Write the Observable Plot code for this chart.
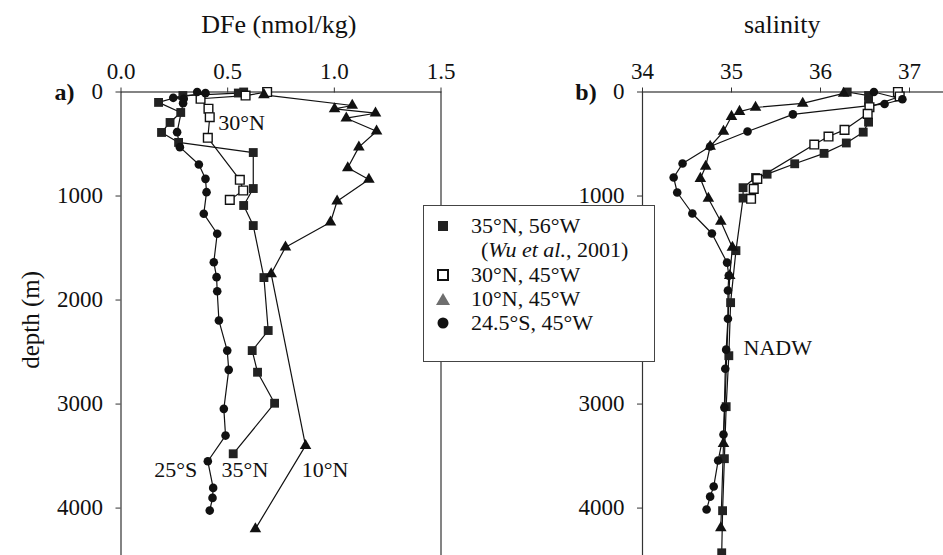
<!DOCTYPE html>
<html><head><meta charset="utf-8">
<script src="https://cdn.jsdelivr.net/npm/d3@7"></script>
<script src="https://cdn.jsdelivr.net/npm/@observablehq/plot@0.6"></script>
<style>
body{margin:0;background:#fff;}
#wrap{position:relative;width:943px;height:555px;overflow:hidden;font-family:"Liberation Serif","Times New Roman",serif;color:#111;background:#fff;}
#pa,#pb{position:absolute;top:0;height:620px;}
#pa{left:0;width:460px;}
#pb{left:520px;width:440px;}
#pa svg,#pb svg{max-width:none !important;}
#legend{position:absolute;left:423px;top:205px;width:232px;height:157px;box-sizing:border-box;border:1px solid #444;background:#fff;}
.row{position:absolute;font-size:22px;line-height:22px;white-space:nowrap;}
.sym{position:absolute;line-height:0;}
</style></head><body>
<div id="wrap"><div id="pa"></div><div id="pb"></div><div id="legend"></div></div>
<script>
// ---- tick labels ----
const depthTicks = [0, 1000, 2000, 3000, 4000];
const dfeTicks = [0.0, 0.5, 1.0, 1.5];
const salTicks = [34, 35, 36, 37];

// ---- panel a: dissolved Fe (nmol/kg) ----
const fe35N_depth = [0, 10, 34, 100, 197, 293, 389, 485, 582, 928, 1091, 1284, 1784, 2293, 2486, 2694, 2992, 3478];
const fe35N_val   = [0.575, 0.55, 0.29, 0.176, 0.28, 0.23, 0.19, 0.27, 0.62, 0.62, 0.575, 0.62, 0.67, 0.69, 0.615, 0.64, 0.72, 0.526];
const fe30N_depth = [0, 34, 65, 161, 242, 440, 844, 947, 1037];
const fe30N_val   = [0.685, 0.584, 0.373, 0.41, 0.416, 0.407, 0.557, 0.573, 0.51];
const fe10N_depth = [27, 130, 162, 204, 252, 377, 530, 729, 841, 1050, 1252, 1492, 1748, 3399, 4200];
const fe10N_val   = [0.67, 1.084, 1.001, 1.193, 1.056, 1.198, 1.115, 1.063, 1.162, 1.013, 0.982, 0.771, 0.704, 0.865, 0.63];
const fe25S_depth = [0, 11, 56, 65, 107, 386, 530, 697, 835, 963, 1171, 1363, 1636, 1780, 1915, 2197, 2486, 2671, 3046, 3303, 3550, 3806, 3902, 4024];
const fe25S_val   = [0.357, 0.396, 0.245, 0.294, 0.291, 0.263, 0.276, 0.365, 0.396, 0.401, 0.388, 0.451, 0.435, 0.448, 0.451, 0.459, 0.498, 0.505, 0.482, 0.49, 0.407, 0.432, 0.429, 0.416];

// ---- panel b: salinity ----
const sal35N_depth = [0, 34, 88, 290, 386, 490, 590, 690, 790, 822, 920, 1020, 1525, 2025, 2535, 3025, 3525, 4025, 4430];
const sal35N_val   = [36.30, 36.54, 36.54, 36.54, 36.48, 36.29, 36.04, 35.71, 35.40, 35.27, 35.13, 35.13, 35.05, 34.99, 34.97, 34.94, 34.92, 34.90, 34.89];
const sal30N_depth = [0, 43, 146, 210, 364, 428, 505, 835, 931, 1027];
const sal30N_val   = [36.87, 36.89, 36.55, 36.53, 36.27, 36.09, 35.93, 35.29, 35.25, 35.22];
const sal10N_depth = [14, 110, 149, 188, 236, 380, 524, 716, 832, 1024, 1245, 1495, 1765, 3380, 4190];
const sal10N_val   = [36.26, 35.80, 35.27, 35.09, 35.00, 34.91, 34.76, 34.71, 34.65, 34.74, 34.88, 35.01, 34.98, 34.91, 34.88];
const sal25S_depth = [0, 70, 115, 215, 380, 524, 688, 822, 966, 1168, 1360, 1640, 1765, 1908, 2180, 2477, 2660, 3034, 3293, 3543, 3793, 3890, 4014];
const sal25S_val   = [36.60, 36.92, 36.72, 35.69, 35.18, 34.76, 34.45, 34.35, 34.39, 34.56, 34.78, 34.95, 34.97, 34.96, 34.96, 34.94, 34.93, 34.92, 34.91, 34.85, 34.80, 34.76, 34.72];

// ---- annotations ----
const labelsA_text = ["30°N", "25°S", "35°N", "10°N"];
const labelsA_x = [0.565, 0.257, 0.581, 0.957];
const labelsA_depth = [299, 3633, 3633, 3633];
const labelsB_text = ["NADW"];
const labelsB_x = [35.52];
const labelsB_depth = [2462];

const legendText = ["35°N, 56°W", "(<i>Wu et al.</i>, 2001)", "30°N, 45°W", "10°N, 45°W", "24.5°S, 45°W"];

const zip = (d, v) => d.map((dd, i) => ({depth: dd, v: v[i]}));
const labs = (t, x, d) => t.map((tt, i) => ({t: tt, x: x[i], depth: d[i]}));

const FONT = "'Liberation Serif', 'Times New Roman', serif";

const styles = {
  s35N: {symbol: "square", fill: "#222", stroke: "#222", r: 5.0, sw: 0},
  s30N: {symbol: "square", fill: "#fff", stroke: "#111", r: 4.9, sw: 1.4},
  s10N: {symbol: "triangle", fill: "#111", stroke: "#111", r: 4.3, sw: 0},
  s25S: {symbol: "circle", fill: "#111", stroke: "#111", r: 4.3, sw: 0}
};

function seriesMarks(list) {
  const marks = [];
  for (const [data] of list) {
    marks.push(Plot.line(data, {x: "v", y: "depth", stroke: "#111", strokeWidth: 1.2}));
  }
  for (const [data, key] of list) {
    const s = styles[key];
    marks.push(Plot.dot(data, {x: "v", y: "depth", symbol: s.symbol, r: s.r, fill: s.fill, stroke: s.stroke, strokeWidth: s.sw}));
  }
  return marks;
}

function panel({xDomain, xTicks, xFmt, width, marginLeft, marginRight, title, titleX, tag, series, labels, extra = []}) {
  return Plot.plot({
    width, height: 620,
    marginTop: 91.5, marginBottom: 50, marginLeft, marginRight,
    style: {fontFamily: FONT, fontSize: "23px", color: "#111", background: "transparent", overflow: "visible", maxWidth: "none"},
    x: {domain: xDomain},
    y: {domain: [0, 4600], reverse: true},
    marks: [
      Plot.frame({stroke: "#333", strokeWidth: 1.2}),
      Plot.axisX({anchor: "top", ticks: xTicks, tickFormat: xFmt, tickSize: 5, tickPadding: 8.5, label: null, stroke: "#333", fontSize: 23}),
      Plot.axisY({ticks: depthTicks, tickFormat: d => String(d), tickSize: 5, tickPadding: 13, label: null, stroke: "#333", fontSize: 23}),
      ...seriesMarks(series),
      Plot.text([{t: title, x: titleX}], {x: "x", text: "t", frameAnchor: "top", dy: -67, fontSize: 26, lineAnchor: "middle"}),
      Plot.text([tag], {frameAnchor: "top-left", dx: -56.5, fontSize: 24, fontWeight: "bold", lineAnchor: "middle", textAnchor: "middle"}),
      Plot.text(labels, {x: "x", y: "depth", text: "t", fontSize: 22, lineAnchor: "middle", textAnchor: "middle"}),
      ...extra
    ]
  });
}

const plotA = panel({
  xDomain: [0, 1.5], xTicks: dfeTicks, xFmt: d3.format(".1f"),
  width: 460, marginLeft: 120.5, marginRight: 19.5,
  title: "DFe (nmol/kg)", titleX: 0.74, tag: "a)",
  series: [[zip(fe35N_depth, fe35N_val), "s35N"], [zip(fe30N_depth, fe30N_val), "s30N"], [zip(fe10N_depth, fe10N_val), "s10N"], [zip(fe25S_depth, fe25S_val), "s25S"]],
  labels: labs(labelsA_text, labelsA_x, labelsA_depth),
  extra: [Plot.text([{t: "depth (m)", depth: 2190}], {y: "depth", text: "t", frameAnchor: "left", dx: -90.5, rotate: -90, fontSize: 25, lineAnchor: "middle", textAnchor: "middle"})]
});

const plotB = panel({
  xDomain: [34, 37.5], xTicks: salTicks, xFmt: d => String(d),
  width: 440, marginLeft: 122, marginRight: 6.5,
  title: "salinity", titleX: 35.57, tag: "b)",
  series: [[zip(sal35N_depth, sal35N_val), "s35N"], [zip(sal30N_depth, sal30N_val), "s30N"], [zip(sal10N_depth, sal10N_val), "s10N"], [zip(sal25S_depth, sal25S_val), "s25S"]],
  labels: labs(labelsB_text, labelsB_x, labelsB_depth)
});

document.getElementById("pa").append(plotA);
document.getElementById("pb").append(plotB);

// ---- legend ----
const lg = document.getElementById("legend");
const rowCenters = [20, 44, 69, 93, 117];
const symSvg = [
  '<svg width="14" height="14"><rect x="2" y="2" width="10" height="10" fill="#222"/></svg>',
  '',
  '<svg width="14" height="14"><rect x="2" y="2" width="10" height="10" fill="#fff" stroke="#111" stroke-width="2"/></svg>',
  '<svg width="16" height="14"><polygon points="8,1 15,13 1,13" fill="#6e6e6e"/></svg>',
  '<svg width="14" height="14"><circle cx="7" cy="7" r="5.5" fill="#111"/></svg>'
];
legendText.forEach((t, i) => {
  const row = document.createElement("div");
  row.className = "row";
  row.style.left = (i === 1 ? 57 : 47) + "px";
  row.style.top = (rowCenters[i] - 11) + "px";
  row.innerHTML = t;
  lg.append(row);
  if (symSvg[i]) {
    const s = document.createElement("div");
    s.className = "sym";
    s.innerHTML = symSvg[i];
    s.style.left = (i === 3 ? 11 : 12) + "px";
    s.style.top = (rowCenters[i] - 7) + "px";
    lg.append(s);
  }
});
</script>
</body></html>
